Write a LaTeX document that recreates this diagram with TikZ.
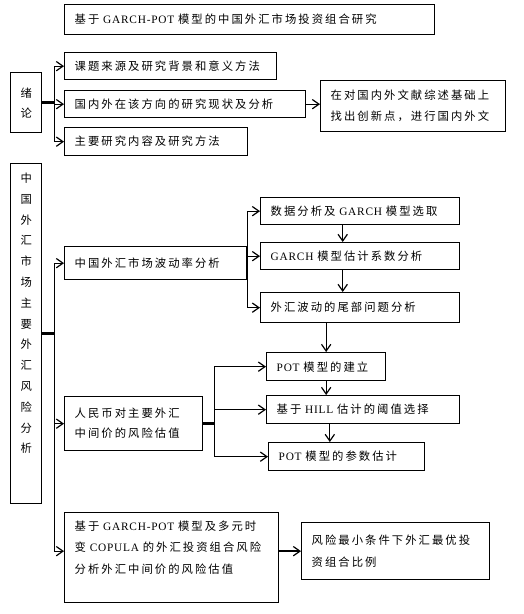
\documentclass[tikz,border=0pt]{standalone}
\usepackage{fontspec}
\usetikzlibrary{arrows.meta}
\newfontfamily\cjkfont{Noto Sans CJK SC}[LetterSpace=18]
\newfontfamily\latfont{Liberation Serif}[LetterSpace=7]
\newcommand\lat[1]{{\latfont #1}}
\begin{document}
\begin{tikzpicture}[x=0.75pt,y=-0.75pt,
  txt/.style={font=\cjkfont\fontsize{8.5}{15.8}\selectfont},
  bx/.style={txt,draw,line width=1pt,anchor=north west,inner xsep=7.5pt,inner ysep=0pt,align=left},
  vbx/.style={txt,draw,line width=1pt,anchor=north west,inner sep=0pt,align=center},
  ln/.style={line width=0.9pt},
  arr/.style={line width=0.9pt,-{Straight Barb[length=5pt,width=7pt]}},
  stub/.style={line width=2.2pt},
  stubarr/.style={line width=1.6pt,-{Straight Barb[length=5pt,width=7pt,line width=0.9pt]}}]
\useasboundingbox (0,0) rectangle (524,614);
% boxes
\node[bx,text width=350*0.75pt,minimum height=30*0.75pt] (T) at (64,4) {基于 \lat{GARCH-POT} 模型的中国外汇市场投资组合研究};
\node[vbx,minimum width=31*0.75pt,minimum height=60*0.75pt,font=\cjkfont\fontsize{8.5}{15}\selectfont] (X) at (10,72) {绪\\论};
\node[bx,text width=192*0.75pt,minimum height=27*0.75pt] (A) at (64,52) {课题来源及研究背景和意义方法};
\node[bx,text width=221*0.75pt,minimum height=27*0.75pt] (B) at (64,90) {国内外在该方向的研究现状及分析};
\node[bx,text width=165*0.75pt,minimum height=51*0.75pt] (C) at (320,80) {在对国内外文献综述基础上\\找出创新点，进行国内外文};
\node[bx,text width=163*0.75pt,minimum height=28*0.75pt] (D) at (64,127) {主要研究内容及研究方法};
\node[vbx,minimum width=31*0.75pt,minimum height=340*0.75pt,font=\cjkfont\fontsize{8.5}{15.6}\selectfont] (S) at (10,163) {中\\国\\外\\汇\\市\\场\\主\\要\\外\\汇\\风\\险\\分\\析\\~\\~};
\node[bx,text width=162*0.75pt,minimum height=33*0.75pt] (E) at (64,246) {中国外汇市场波动率分析};
\node[bx,text width=179*0.75pt,minimum height=27*0.75pt] (E1) at (260,197) {数据分析及 \lat{GARCH} 模型选取};
\node[bx,text width=179*0.75pt,minimum height=27*0.75pt] (E2) at (260,242) {\lat{GARCH} 模型估计系数分析};
\node[bx,text width=179*0.75pt,minimum height=30*0.75pt] (E3) at (260,292) {外汇波动的尾部问题分析};
\node[bx,text width=118*0.75pt,minimum height=54*0.75pt,font=\cjkfont\fontsize{8.5}{15}\selectfont] (F) at (64,396) {人民币对主要外汇\\中间价的风险估值};
\node[bx,text width=99*0.75pt,minimum height=28*0.75pt] (F1) at (266,352) {\lat{POT} 模型的建立};
\node[bx,text width=173*0.75pt,minimum height=28*0.75pt] (F2) at (266,395) {基于 \lat{HILL} 估计的阈值选择};
\node[bx,text width=136*0.75pt,minimum height=28*0.75pt] (F3) at (268,442) {\lat{POT} 模型的参数估计};
\node[bx,text width=194*0.75pt,minimum height=90*0.75pt,font=\cjkfont\fontsize{8.5}{16.1}\selectfont] (G) at (64,512) {基于 \lat{GARCH-POT} 模型及多元时\\变 \lat{COPULA} 的外汇投资组合风险\\分析外汇中间价的风险估值\\~};
\node[bx,text width=168*0.75pt,minimum height=57*0.75pt,font=\cjkfont\fontsize{8.5}{16.5}\selectfont] (H) at (301,522) {风险最小条件下外汇最优投\\资组合比例};
% connectors: introduction
\draw[stub] (X.east) -- ++(12,0) coordinate (j1);
\draw[arr] (j1) |- (A.west);
\draw[arr] (j1) |- (D.west);
\draw[arr] (j1 |- B.west) -- (B.west);
\draw[arr] (B.east) -- (B.east -| C.west);
% connectors: main part
\draw[stub] (S.east) -- ++(12,0) coordinate (j2);
\draw[arr] (j2) |- (E.west);
\draw[arr] (j2) |- (F.west);
\draw[arr] (j2) |- (G.west |- H.west);
\draw[stubarr] (G.east |- H.west) -- (H.west);
% volatility branch
\draw[arr] (E.east) |- (E1.west);
\draw[arr] (E.east) |- (E3.west);
\draw[arr] (E.east |- E2.west) -- (E2.west);
\draw[arr] ([xshift=-13.1pt]E1.south) -- ([xshift=-13.1pt]E2.north);
\draw[arr] ([xshift=-13.1pt]E2.south) -- ([xshift=-13.1pt]E3.north);
\draw[arr] (F1.north |- E3.south) -- (F1.north);
% POT branch
\draw[stub] (F.east) -- ++(11,0) coordinate (j4);
\draw[arr] (j4) |- (F1.west);
\draw[arr] (j4) |- (F3.west);
\draw[arr] (j4 |- F2.west) -- (F2.west);
\draw[arr] (F1.south) -- (F1.south |- F2.north);
\draw[arr] ([xshift=-25pt]F2.south) -- ([xshift=-25pt]F2.south |- F3.north);
\end{tikzpicture}
\end{document}
